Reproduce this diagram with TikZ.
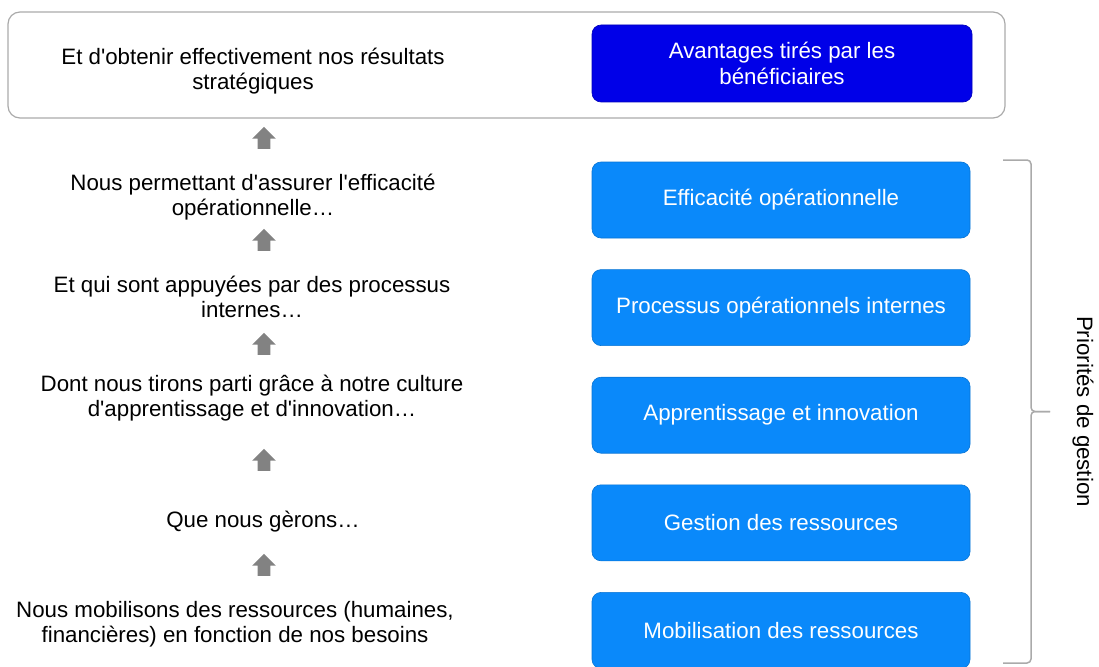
\documentclass[tikz,border=0pt]{standalone}
\usepackage{fontspec}
\setmainfont{Liberation Sans}[Ligatures=TeXOff]
\usetikzlibrary{positioning,shapes.arrows}

\definecolor{prioblue}{RGB}{10,137,250}
\definecolor{benefblue}{RGB}{0,0,232}
\definecolor{upgray}{RGB}{130,130,130}
\definecolor{framegray}{RGB}{170,170,170}

\begin{document}
\begin{tikzpicture}[
    x = 1pt, y = -1pt, % pixel grid of the reference
    every node/.style = {font=\fontsize{22.3}{25.5}\selectfont},
    node distance = 31pt, % gap between the blue boxes
    semithick
    ]

    \tikzset{
    prio/.style = {
        rectangle, rounded corners = 9pt,
        fill = prioblue, draw = prioblue!85!black,
        text = white, align = center,
        minimum width = 378pt, minimum height = 76pt
        },
    benef/.style = {prio, fill = benefblue, draw = benefblue!80!black},
    step text/.style = {align = center},
    uparrow/.style = {
        single arrow, shape border rotate = 90,
        fill = upgray, draw = none, inner sep = 6pt,
        minimum width = 23pt, minimum height = 22pt,
        single arrow head extend = 5.5pt
        },
    brace/.style = {draw = framegray, line width = 1.5pt, rounded corners = 4pt}
    }

    \useasboundingbox (0,0) rectangle (1099,666);

    % top frame
    \node[draw = framegray, line width = 1.2pt, rounded corners = 12pt,
          minimum width = 997pt, minimum height = 106pt] (frame) at (506.5,65) {};
    \node[step text] (result) at (253,71) {Et d'obtenir effectivement nos résultats\\stratégiques};
    \node[benef, minimum width = 380pt, minimum height = 77pt] (benef) at (782,63.5) {Avantages tirés par les\\bénéficiaires};

    % priorities
    \node[prio] (effic) at (781,200) {Efficacité opérationnelle};
    \node[prio] (proc) [below=of effic] {Processus opérationnels internes};
    \node[prio] (learn) [below=of proc] {Apprentissage et innovation};
    \node[prio] (manage) [below=of learn] {Gestion des ressources};
    \node[prio] (mobil) [below=of manage] {Mobilisation des ressources};

    % left column
    \node[step text] (t1) at (253,197) {Nous permettant d'assurer l'efficacité\\opérationnelle…};
    \node[step text] (t2) at (252,297) {Et qui sont appuyées par des processus\\internes…};
    \node[step text] (t3) at (252,398) {Dont nous tirons parti grâce à notre culture\\d'apprentissage et d'innovation…};
    \node[step text] (t4) at (263,522) {Que nous gèrons…};
    \node[step text] (t5) at (235,624) {Nous mobilisons des ressources (humaines,\\financières) en fonction de nos besoins};

    \node[uparrow] (up1) at (264,141) {};
    \node[uparrow] (up2) at (264,243) {};
    \node[uparrow] (up3) at (264,347) {};
    \node[uparrow] (up4) at (264,463) {};
    \node[uparrow] (up5) at (264,568) {};

    % brace
    \coordinate (tip) at (1050,411.5);
    \draw[brace] (1003,160) -- (1031,160) -- (1031,411.5) -- (tip);
    \draw[brace] (1003,663) -- (1031,663) -- (1031,411.5) -- (tip);
    \node[rotate = -90] (prio) at (1083,411.5) {Priorités de gestion};
\end{tikzpicture}
\end{document}
